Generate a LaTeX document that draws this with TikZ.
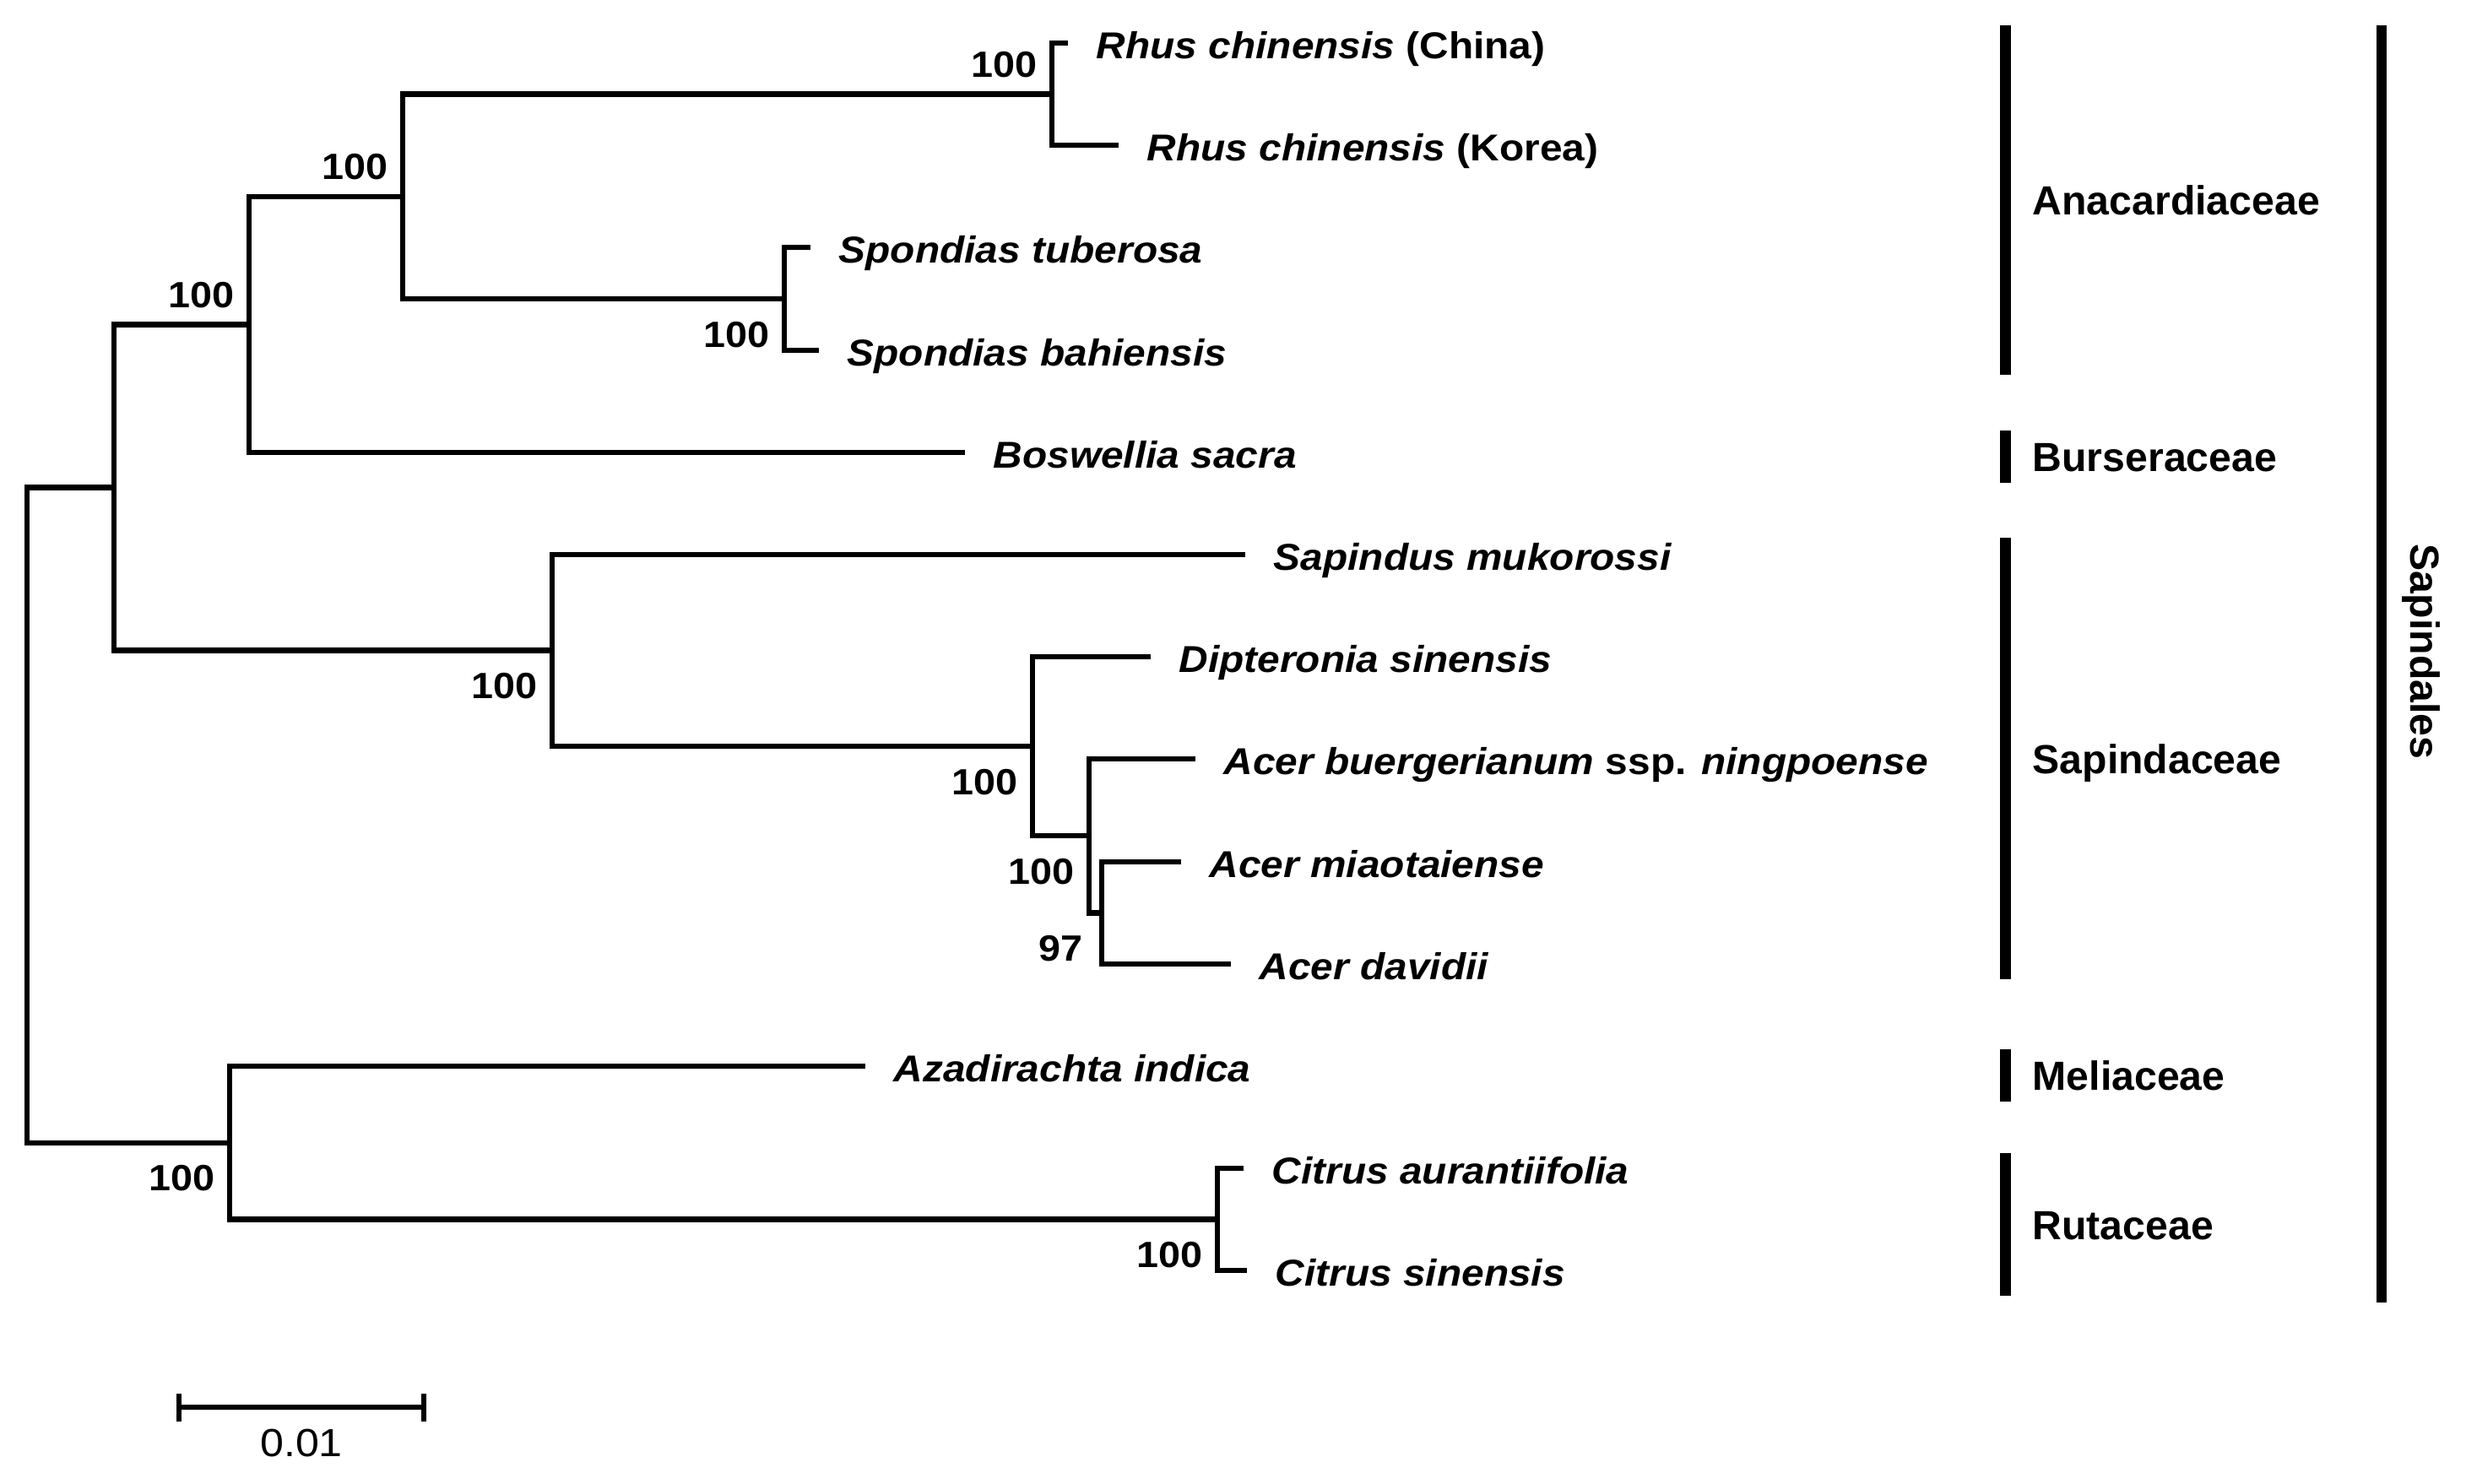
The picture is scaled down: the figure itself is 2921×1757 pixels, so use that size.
\documentclass[tikz,border=0pt]{standalone}
\usepackage{fontspec}
\setmainfont{Liberation Sans}
\newfontfamily\treefont{Liberation Sans}[FakeStretch=1.08]

\newcommand*{\famx}{2375}
\newcommand*{\famlabx}{2407}
\newcommand*{\ordx}{2821}

\begin{document}
\begin{tikzpicture}
[
	x=0.01cm,
	y=-0.01cm,
	branch/.style={line width=1.8pt},
	taxon/.style={anchor=base west,inner sep=0pt,font=\treefont\fontsize{12.6}{15}\selectfont\bfseries\itshape},
	boot/.style={anchor=base east,inner sep=0pt,font=\treefont\fontsize{12.3}{15}\selectfont\bfseries},
	fambar/.style={line width=0.13cm},
	family/.style={anchor=base west,inner sep=0pt,font=\fontsize{13.7}{16}\selectfont\bfseries}
]

	\useasboundingbox (0,0) rectangle (2921,1757);

	% internal nodes
	\coordinate (root) at (32,965.6);
	\coordinate (nA) at (135,577.5);
	\coordinate (nB) at (295,384.4);
	\coordinate (nC) at (477,232.8);
	\coordinate (nD) at (1246,111.5);
	\coordinate (nE) at (929,354);
	\coordinate (nF) at (654,770.6);
	\coordinate (nG) at (1223,884.1);
	\coordinate (nH) at (1290,990.3);
	\coordinate (nI) at (1305,1081.5);
	\coordinate (nJ) at (272,1353.8);
	\coordinate (nK) at (1442,1444.5);

	% tips
	\coordinate (tRhusCN) at (1265,51);
	\coordinate (tRhusKR) at (1325,172);
	\coordinate (tSpondT) at (960,293);
	\coordinate (tSpondB) at (970,415);
	\coordinate (tBosw) at (1143,536);
	\coordinate (tSapind) at (1475,657);
	\coordinate (tDipt) at (1363,778);
	\coordinate (tAcerB) at (1416,899);
	\coordinate (tAcerM) at (1399,1021);
	\coordinate (tAcerD) at (1458,1142);
	\coordinate (tAzad) at (1025,1263);
	\coordinate (tCitA) at (1473,1384);
	\coordinate (tCitS) at (1477,1505);

	% branches
	\draw[branch] (root) |- (nA);
	\draw[branch] (root) |- (nJ);
	\draw[branch] (nA) |- (nB);
	\draw[branch] (nA) |- (nF);
	\draw[branch] (nB) |- (nC);
	\draw[branch] (nB) |- (tBosw);
	\draw[branch] (nC) |- (nD);
	\draw[branch] (nC) |- (nE);
	\draw[branch] (nD) |- (tRhusCN);
	\draw[branch] (nD) |- (tRhusKR);
	\draw[branch] (nE) |- (tSpondT);
	\draw[branch] (nE) |- (tSpondB);
	\draw[branch] (nF) |- (tSapind);
	\draw[branch] (nF) |- (nG);
	\draw[branch] (nG) |- (tDipt);
	\draw[branch] (nG) |- (nH);
	\draw[branch] (nH) |- (tAcerB);
	\draw[branch] (nH) |- (nI);
	\draw[branch] (nI) |- (tAcerM);
	\draw[branch] (nI) |- (tAcerD);
	\draw[branch] (nJ) |- (tAzad);
	\draw[branch] (nJ) |- (nK);
	\draw[branch] (nK) |- (tCitA);
	\draw[branch] (nK) |- (tCitS);

	% taxa
	\node[taxon] (rhusCN) at ([xshift=0.33cm,yshift=-0.18cm]tRhusCN) {Rhus chinensis \textup{(China)}};
	\node[taxon] (rhusKR) at ([xshift=0.33cm,yshift=-0.18cm]tRhusKR) {Rhus chinensis \textup{(Korea)}};
	\node[taxon] (spondT) at ([xshift=0.33cm,yshift=-0.18cm]tSpondT) {Spondias tuberosa};
	\node[taxon] (spondB) at ([xshift=0.33cm,yshift=-0.18cm]tSpondB) {Spondias bahiensis};
	\node[taxon] (bosw) at ([xshift=0.33cm,yshift=-0.18cm]tBosw) {Boswellia sacra};
	\node[taxon] (sapind) at ([xshift=0.33cm,yshift=-0.18cm]tSapind) {Sapindus mukorossi};
	\node[taxon] (dipt) at ([xshift=0.33cm,yshift=-0.18cm]tDipt) {Dipteronia sinensis};
	\node[taxon] (acerB) at ([xshift=0.33cm,yshift=-0.18cm]tAcerB) {Acer buergerianum \textup{ssp.} ningpoense};
	\node[taxon] (acerM) at ([xshift=0.33cm,yshift=-0.18cm]tAcerM) {Acer miaotaiense};
	\node[taxon] (acerD) at ([xshift=0.33cm,yshift=-0.18cm]tAcerD) {Acer davidii};
	\node[taxon] (azad) at ([xshift=0.33cm,yshift=-0.18cm]tAzad) {Azadirachta indica};
	\node[taxon] (citA) at ([xshift=0.33cm,yshift=-0.18cm]tCitA) {Citrus aurantiifolia};
	\node[taxon] (citS) at ([xshift=0.33cm,yshift=-0.18cm]tCitS) {Citrus sinensis};

	% bootstrap values
	\node[boot] (bsB) at ([xshift=-0.17cm,yshift=0.20cm]nB) {100};
	\node[boot] (bsC) at ([xshift=-0.17cm,yshift=0.20cm]nC) {100};
	\node[boot] (bsD) at ([xshift=-0.17cm,yshift=0.20cm]nD) {100};
	\node[boot] (bsE) at ([xshift=-0.17cm,yshift=-0.57cm]nE) {100};
	\node[boot] (bsF) at ([xshift=-0.17cm,yshift=-0.57cm]nF) {100};
	\node[boot] (bsG) at ([xshift=-0.17cm,yshift=-0.57cm]nG) {100};
	\node[boot] (bsH) at ([xshift=-0.17cm,yshift=-0.57cm]nH) {100};
	\node[boot] (bsI) at ([xshift=-0.22cm,yshift=-0.57cm]nI) {97};
	\node[boot] (bsJ) at ([xshift=-0.17cm,yshift=-0.57cm]nJ) {100};
	\node[boot] (bsK) at ([xshift=-0.17cm,yshift=-0.57cm]nK) {100};

	% scale bar
	\coordinate (sbL) at (212,1667);
	\coordinate (sbR) at (502,1667);
	\draw[branch] (sbL) -- (sbR);
	\draw[branch] ([yshift=0.16cm]sbL) -- ([yshift=-0.17cm]sbL);
	\draw[branch] ([yshift=0.16cm]sbR) -- ([yshift=-0.17cm]sbR);
	\node[anchor=base,inner sep=0pt,font=\treefont\fontsize{13.2}{15}\selectfont] (sblab) at (357,1725) {0.01};

	% families
	\draw[fambar] (\famx,30) -- (\famx,444);
	\draw[fambar] (\famx,510) -- (\famx,572);
	\draw[fambar] (\famx,637) -- (\famx,1160);
	\draw[fambar] (\famx,1243) -- (\famx,1305);
	\draw[fambar] (\famx,1366) -- (\famx,1535);
	\node[family] (anacard) at (\famlabx,254.5) {Anacardiaceae};
	\node[family] (burser) at (\famlabx,558.5) {Burseraceae};
	\node[family] (sapindac) at (\famlabx,916) {Sapindaceae};
	\node[family] (meliac) at (\famlabx,1291.5) {Meliaceae};
	\node[family] (rutac) at (\famlabx,1468) {Rutaceae};

	% order
	\draw[line width=0.12cm] (\ordx,30) -- (\ordx,1543);
	\node[family,anchor=base,rotate=-90] (sapindales) at (2855,772) {Sapindales};

\end{tikzpicture}
\end{document}
